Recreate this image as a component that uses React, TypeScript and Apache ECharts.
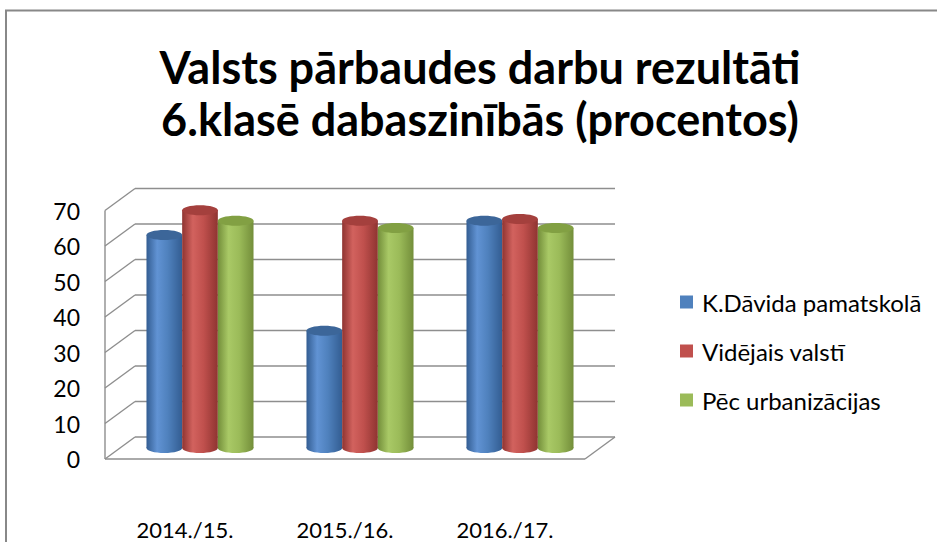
import React, { useEffect, useRef } from "react";
import * as echarts from "echarts";

const titleText = "Valsts pārbaudes darbu rezultāti\n6.klasē dabaszinībās (procentos)";
const categories = ["2014./15.", "2015./16.", "2016./17."];
const seriesNames = ["K.Dāvida pamatskolā", "Vidējais valstī", "Pēc urbanizācijas"];
const kDavida = [60, 33, 64];
const videjais = [67, 64, 64.5];
const urbanizacija = [64, 62, 62];
const yTicks = [0, 10, 20, 30, 40, 50, 60, 70];

const DEPTH_X = 30;
const DEPTH_Y = -22;
const FONT = "Lato, 'Open Sans', sans-serif";
const GRID_COLOR = "#8e8e8e";

const palettes = [
  { base: "#4F81BD", edge: "#335d92", light: "#6193d4", top: "#3c6699" },
  { base: "#C0504D", edge: "#8f3431", light: "#d2625e", top: "#a4403d" },
  { base: "#9BBB59", edge: "#738e3a", light: "#a9c966", top: "#82a043" },
];

const seriesValues = [kDavida, videjais, urbanizacija];

function makeCylinder(idx: number) {
  const pal = palettes[idx];
  return (params: any, api: any) => {
    const cat = api.value(0);
    const v = api.value(1);
    const p0 = api.coord([cat, 0]);
    const p1 = api.coord([cat, v]);
    const band = api.size([1, 0])[0];
    const w = band * 0.223;
    const cx = p0[0] + (idx - 1) * w + DEPTH_X / 2;
    const yb = p0[1] + DEPTH_Y / 2;
    const yt = p1[1] + DEPTH_Y / 2;
    const rx = w / 2;
    const ry = w * 0.14;
    const grad = () =>
      new echarts.graphic.LinearGradient(0, 0, 1, 0, [
        { offset: 0, color: pal.edge },
        { offset: 0.3, color: pal.light },
        { offset: 0.6, color: pal.base },
        { offset: 1, color: pal.edge },
      ]);
    return {
      type: "group",
      children: [
        { type: "ellipse", shape: { cx, cy: yb, rx, ry }, style: { fill: grad() } },
        { type: "rect", shape: { x: cx - rx, y: yt, width: 2 * rx, height: yb - yt }, style: { fill: grad() } },
        { type: "ellipse", shape: { cx, cy: yt, rx, ry }, style: { fill: pal.top } },
      ],
    };
  };
}

function renderFrame(params: any, api: any) {
  const v = api.value(1);
  const cs = params.coordSys;
  const y = api.coord([0, v])[1];
  const st = { stroke: GRID_COLOR, lineWidth: 1.4, fill: null };
  const children: any[] = [
    { type: "line", shape: { x1: cs.x, y1: y, x2: cs.x + DEPTH_X, y2: y + DEPTH_Y }, style: st },
    { type: "line", shape: { x1: cs.x + DEPTH_X, y1: y + DEPTH_Y, x2: cs.x + cs.width + DEPTH_X, y2: y + DEPTH_Y }, style: st },
  ];
  if (v === yTicks[0]) {
    const yTop = api.coord([0, yTicks[yTicks.length - 1]])[1];
    children.push(
      { type: "line", shape: { x1: cs.x, y1: y, x2: cs.x + cs.width, y2: y }, style: st },
      { type: "line", shape: { x1: cs.x + cs.width, y1: y, x2: cs.x + cs.width + DEPTH_X, y2: y + DEPTH_Y }, style: st },
      { type: "line", shape: { x1: cs.x, y1: y, x2: cs.x, y2: yTop }, style: st }
    );
  }
  return { type: "group", children };
}

export default function App() {
  const ref = useRef<HTMLDivElement>(null);
  useEffect(() => {
    if (!ref.current) return;
    const chart = echarts.init(ref.current, undefined, { renderer: "svg" });
    const option: any = {
      animation: false,
      backgroundColor: "#ffffff",
      title: {
        text: titleText,
        left: 480,
        textAlign: "center",
        top: 41,
        padding: 0,
        textStyle: { fontFamily: FONT, fontSize: 45, fontWeight: "bold", color: "#000", lineHeight: 52 },
      },
      legend: {
        data: seriesNames,
        orient: "vertical",
        left: 675,
        top: 284,
        itemWidth: 13,
        itemHeight: 13,
        itemGap: 23,
        icon: "rect",
        textStyle: { fontFamily: FONT, fontSize: 24, color: "#000", lineHeight: 26, padding: [0, 0, 0, 4] },
      },
      grid: { left: 105, top: 210.5, width: 480, height: 248.5 },
      xAxis: {
        type: "category",
        data: categories,
        axisLine: { show: false },
        axisTick: { show: false },
        splitLine: { show: false },
        axisLabel: { fontFamily: FONT, fontSize: 22, color: "#000", margin: 59 },
      },
      yAxis: {
        type: "value",
        min: 0,
        max: 70,
        interval: 10,
        axisLine: { show: false },
        axisTick: { show: false },
        splitLine: { show: false },
        axisLabel: { fontFamily: FONT, fontSize: 23, color: "#000", margin: 25 },
      },
      graphic: [
        {
          type: "rect",
          shape: { x: 6, y: 10.5, width: 1000, height: 1000 },
          style: { fill: null, stroke: "#888888", lineWidth: 2 },
          z: 0,
        },
      ],
      series: [
        {
          type: "custom",
          name: "frame",
          renderItem: renderFrame,
          data: yTicks.map((v) => [0, v]),
          z: 1,
          silent: true,
        },
        ...seriesNames.map((name, i) => ({
          type: "custom",
          name,
          renderItem: makeCylinder(i),
          data: categories.map((_, k) => [k, seriesValues[i][k]]),
          itemStyle: { color: palettes[i].base },
          z: 2 + i,
        })),
      ],
    };
    chart.setOption(option);
    return () => chart.dispose();
  }, []);
  return <div ref={ref} style={{ position: "fixed", left: 0, top: 0, width: 937, height: 542 }} />;
}
